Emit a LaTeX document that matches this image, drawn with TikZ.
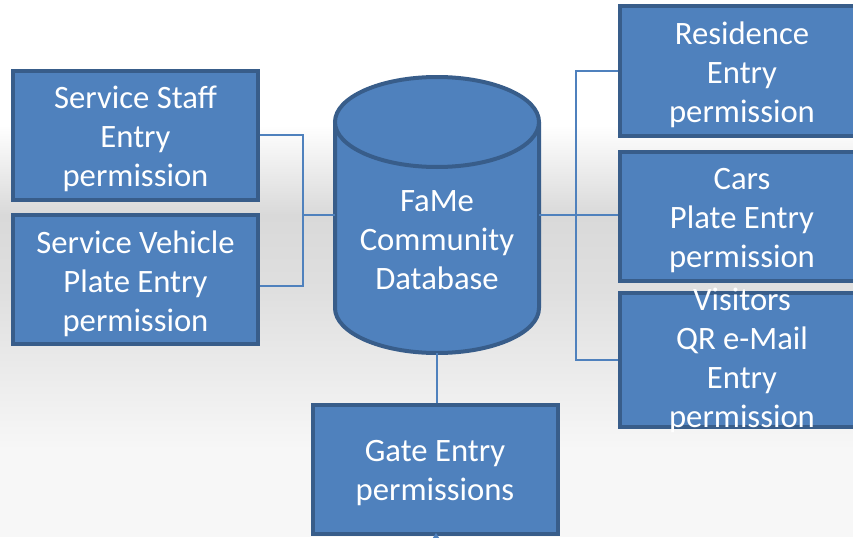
\documentclass[tikz,border=0pt]{standalone}
\usepackage{fontspec}
\setmainfont{Carlito}
\usetikzlibrary{arrows.meta}
\definecolor{boxfill}{HTML}{4F81BD}
\definecolor{boxline}{HTML}{385D8A}
\definecolor{bgdark}{HTML}{D9D9D9}
\definecolor{bgmid}{HTML}{DFDFDF}
\definecolor{bglight}{HTML}{F7F7F7}

\begin{document}
\begin{tikzpicture}[x=0.75pt,y=0.75pt,
 perm/.style={draw=boxline,fill=boxfill,line width=3pt,text=white,align=center,
  font=\fontsize{24.5}{29.25}\selectfont,minimum width=183.75pt,minimum height=96.75pt,inner sep=0pt,
  text height=83pt,text depth=5.5pt},
 link/.style={draw=boxfill,line width=1.3pt}]
 \useasboundingbox (0,0) rectangle (853,537);
 \clip (0,0) rectangle (853,537);
 % background band
 \fill[white] (0,412) rectangle (853,537);
 \shade[top color=white,bottom color=bgdark] (0,322) rectangle (853,412);
 \shade[top color=bgdark,bottom color=bgmid] (0,247) rectangle (853,322);
 \shade[top color=bgmid,bottom color=bglight] (0,87) rectangle (853,247);
 \fill[bglight] (0,0) rectangle (853,87);

 % left boxes
 \node[perm] (ss) at (135.5,402) {Service Staff\\Entry\\permission};
 \node[perm] (sv) at (135.5,257.5) {Service Vehicle\\Plate Entry\\permission};

 % right boxes
 \node[perm] (re) at (742,466) {Residence\\Entry\\permission};
 \node[perm] (cp) at (742,321) {Cars\\Plate Entry\\permission};
 \node[perm,text height=100.75pt,text depth=-3.75pt] (vq) at (742,177) {Visitors\\QR e-Mail\\Entry\\permission};

 % bottom box
 \node[perm,text height=53pt] (gate) at (435,68) {Gate Entry\\permissions};

 % database
 \fill[boxfill] (335,415) -- (335,229) arc[start angle=180,end angle=360,x radius=76.5pt,y radius=33.75pt]
  -- (539,415) arc[start angle=0,end angle=180,x radius=76.5pt,y radius=33.75pt] -- cycle;
 \draw[boxline,line width=3pt] (335,415) -- (335,229)
  arc[start angle=180,end angle=360,x radius=76.5pt,y radius=33.75pt] -- (539,415);
 \draw[boxline,fill=boxfill,line width=3pt] (437,415) ellipse [x radius=76.5pt,y radius=33.75pt];
 \node[minimum width=153pt,minimum height=139.5pt,inner sep=0pt] (db) at (437,322) {};
 \node[text=white,align=center,font=\fontsize{24.5}{29.25}\selectfont] (dbt) at (437,297)
  {FaMe\\Community\\Database};
 \coordinate (dbb) at (437,184);

 % connectors
 \coordinate (lj) at (303,322);
 \coordinate (rj) at (576,322);
 \draw[link] (ss.east) -| (lj) |- ([yshift=-5pt]sv.east);
 \draw[link] (lj) -- (db.west);
 \draw[link] (db.east) -- (rj);
 \draw[link] (re.west) -| (rj) |- (vq.west);
 \draw[link] (rj) -- (rj -| cp.west);
 \draw[link] (dbb) -- (dbb |- gate.north);
 \coordinate (gin) at (436,-30);
 \draw[link,-{Stealth[length=5pt,width=6pt]}] (gin) -- ([yshift=2pt]gin |- gate.south);
\end{tikzpicture}
\end{document}
